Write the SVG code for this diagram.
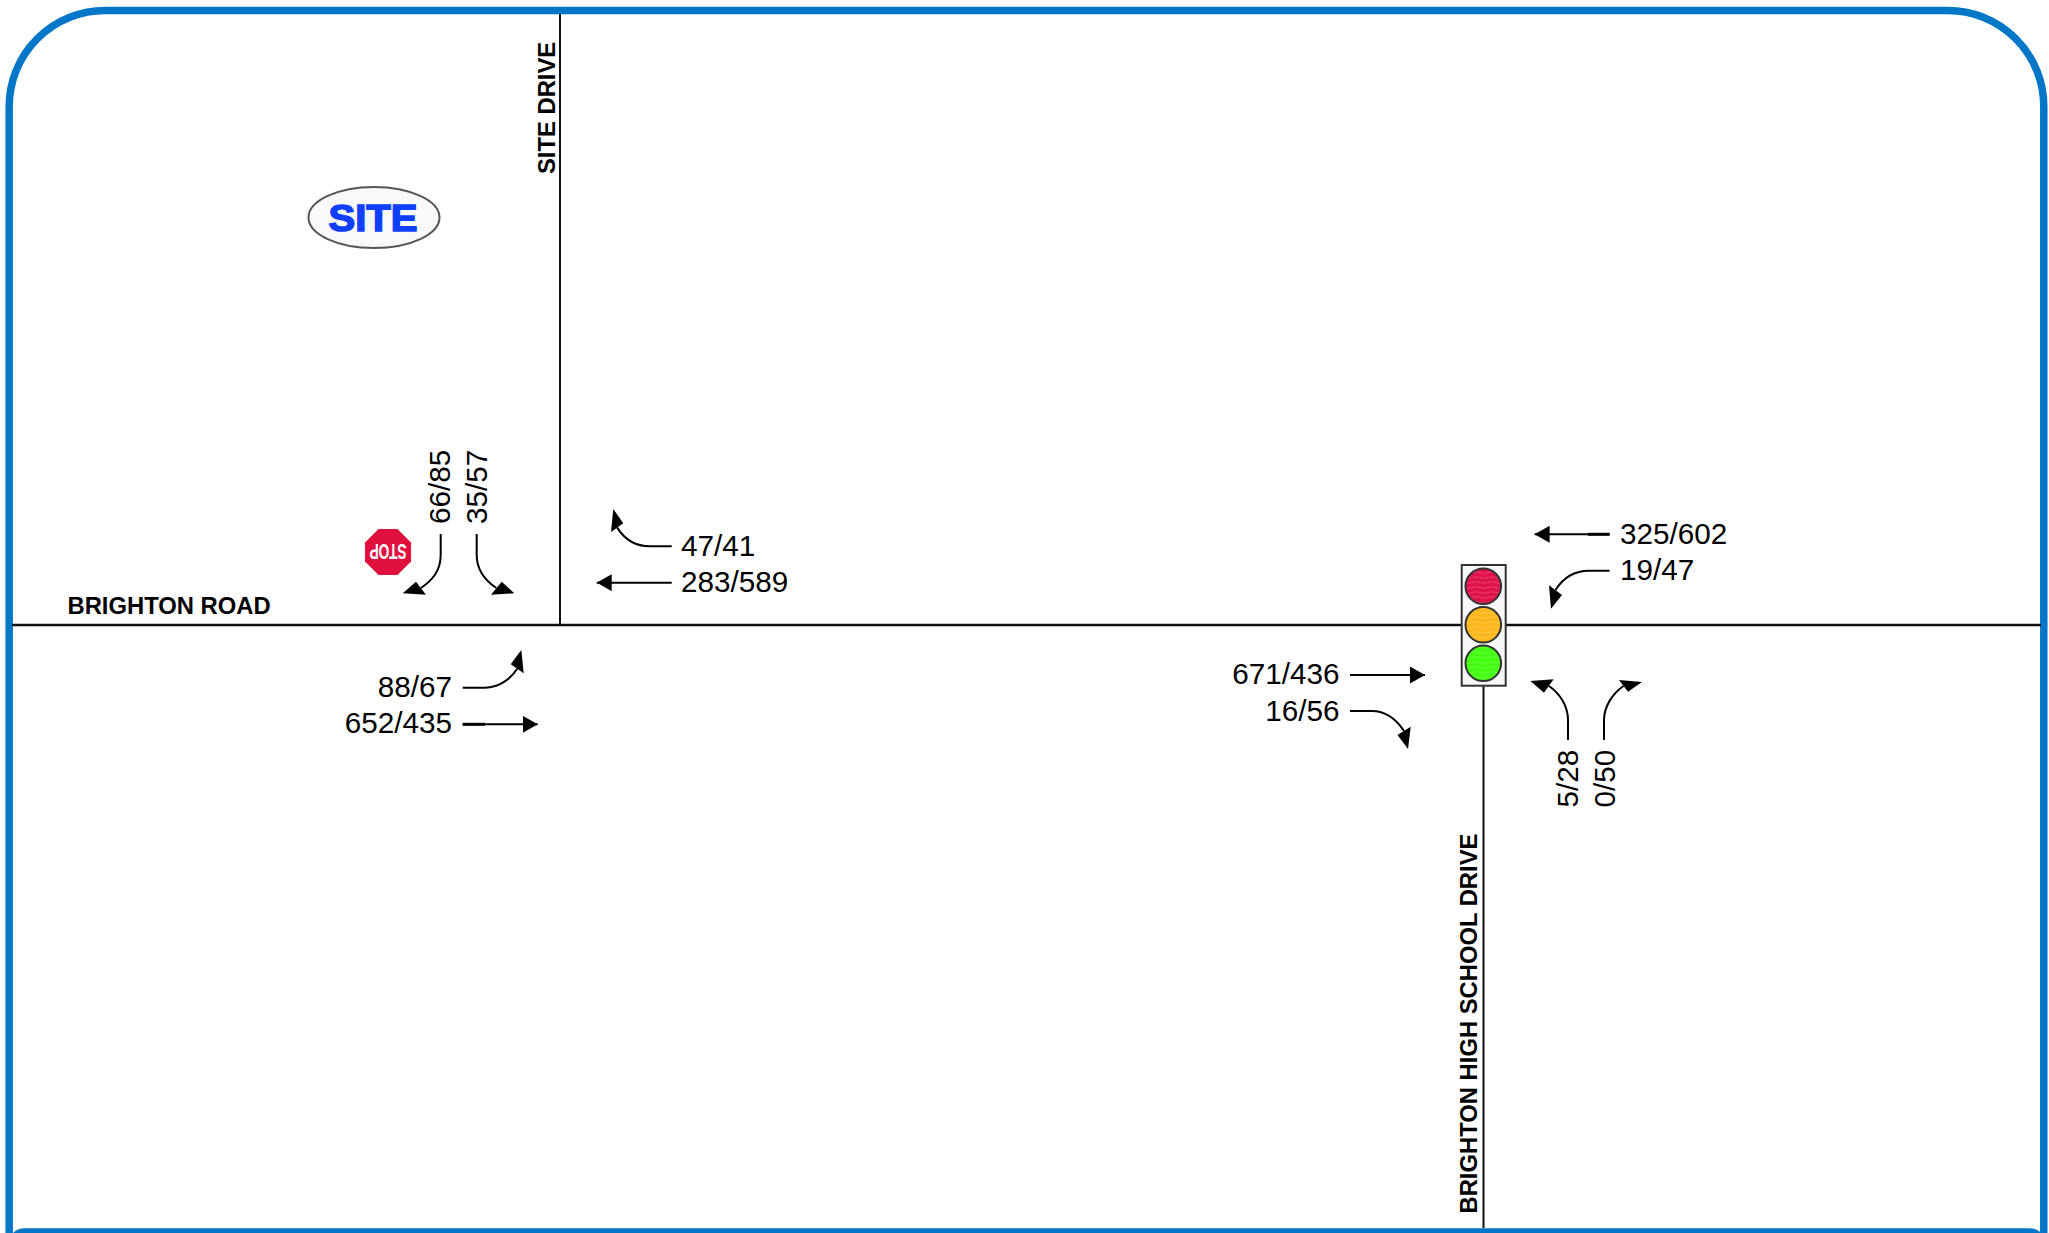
<svg xmlns="http://www.w3.org/2000/svg" width="2049" height="1233" viewBox="0 0 2049 1233">
<style>
.road{stroke:#111;fill:none}
.arr{stroke:#000;stroke-width:2;fill:none}
.straight{marker-end:url(#headS)}
.head{fill:#000}
.thick{stroke:#000;stroke-width:3;fill:none}
.vol{font-family:"Liberation Sans",Arial,sans-serif;font-size:29.7px;fill:#000}
.name{font-family:"Liberation Sans",Arial,sans-serif;font-size:23.8px;font-weight:bold;fill:#000}
.light{stroke:#333;stroke-width:2}
</style>
<defs>
<marker id="headS" markerUnits="userSpaceOnUse" viewBox="0 0 15 17" refX="15" refY="8.500" markerWidth="15" markerHeight="17" orient="auto"><path d="M0,0L15,8.500L0,17Z" fill="#000"/></marker>
<pattern id="wave" patternUnits="userSpaceOnUse" width="16" height="5"><path d="M0,2.500Q4,1 8,2.500T16,2.500" fill="none" stroke="#fff" stroke-opacity=".18" stroke-width="1"/></pattern>
</defs>
<rect width="2049" height="1233" fill="#fff"/>
<g id="frame">
<path d="M9.200,1233V106.500A96,96 0 0 1 105.200,10.500H1947.800A96,96 0 0 1 2043.800,106.500V1233" fill="none" stroke="#0277c8" stroke-width="7.500"/>
<path d="M13,1233Q17,1228.300 25,1228.300H2029Q2037,1228.300 2041,1233Z" fill="#0277c8"/>
</g>
<g id="roads">
<path class="road" stroke-width="2.500" d="M12,625H2041"/>
<path class="road" stroke-width="2" d="M560,14V625"/>
<path class="road" stroke-width="2" d="M1483.500,686V1228"/>
</g>
<g id="connectors">
<path class="arr" d="M440.700,534V555C440.700,572 431,581 421,588"/>
<polygon class="head" points="402.700,593.300 426,594.700 416,581.700"/>
<path class="arr" d="M476.700,534V555C476.700,570 486,581 496.300,588"/>
<polygon class="head" points="514.300,593.300 491,594.700 501.700,581.700"/>
<path class="arr" d="M671.700,546.300H650C636,546.300 625,540 617.200,527.600"/>
<polygon class="head" points="613.300,509 611,532 623.300,523.300"/>
<path class="arr straight" d="M671.700,582.700H596.700"/>
<path class="arr" d="M462.700,687.700H485C498,687.700 510,680 517.200,668.800"/>
<polygon class="head" points="521.300,650 523.700,673.300 510.700,664.300"/>
<path class="arr straight" d="M462.700,724.300H537.700"/>
<path class="thick" d="M462.700,724.300H485"/>
<path class="arr straight" d="M1609.600,534.300H1534.600"/>
<path class="thick" d="M1609.600,534.300H1588"/>
<path class="arr" d="M1609.600,570.700H1589C1575,570.700 1563,578 1555.500,590"/>
<polygon class="head" points="1551,608.700 1549,585.300 1562,595"/>
<path class="arr straight" d="M1350,675H1425"/>
<path class="arr" d="M1350,711H1372C1385,711 1396,719 1404,731"/>
<polygon class="head" points="1408,749 1410.700,726.700 1397.500,735"/>
<path class="arr" d="M1568,740V720C1568,705 1559,693 1549,686"/>
<polygon class="head" points="1530.400,681 1553.600,679.300 1544,692.700"/>
<path class="arr" d="M1604,740V720C1604,707 1612,694 1623.500,686"/>
<polygon class="head" points="1642,682 1619,680 1628,691.700"/>
</g>
<g id="site">
<ellipse cx="374" cy="217.500" rx="65.500" ry="30.500" fill="#f9f9f9" stroke="#555" stroke-width="2"/>
<text x="328.500" y="230.700" textLength="89" lengthAdjust="spacingAndGlyphs" font-family="'Liberation Sans',Arial,sans-serif" font-size="36.700" font-weight="bold" fill="#0f40ff" stroke="#0f40ff" stroke-width="1.500">SITE</text>
</g>
<g id="stop-sign">
<path d="M378.500,529H397.500L411,542.500V561.500L397.500,575H378.500L365,561.500V542.500Z" fill="#e0103f"/>
<text transform="rotate(180 388 552)" x="369.500" y="560" textLength="37" lengthAdjust="spacingAndGlyphs" font-family="'Liberation Sans',Arial,sans-serif" font-size="22" font-weight="bold" fill="#fff">STOP</text>
</g>
<g id="traffic-signal">
<rect x="1461.700" y="565" width="44" height="120.700" fill="#f8f8f8" stroke="#333" stroke-width="2"/>
<circle class="light" cx="1483.300" cy="586.300" r="17.800" fill="#e0134c"/>
<circle class="light" cx="1483.300" cy="624.800" r="17.800" fill="#ffb81c"/>
<circle class="light" cx="1483.300" cy="663.300" r="17.800" fill="#44ff11"/>
<circle cx="1483.300" cy="586.300" r="16.800" fill="url(#wave)"/>
<circle cx="1483.300" cy="624.800" r="16.800" fill="url(#wave)"/>
<circle cx="1483.300" cy="663.300" r="16.800" fill="url(#wave)"/>
</g>
<g id="road-names">
<text class="name" x="67.500" y="614">BRIGHTON ROAD</text>
<text class="name" transform="translate(555 174) rotate(-90)">SITE DRIVE</text>
<text class="name" transform="translate(1476.600 1213.500) rotate(-90)">BRIGHTON HIGH SCHOOL DRIVE</text>
</g>
<g id="volumes">
<text class="vol" transform="translate(450 524) rotate(-90)">66/85</text>
<text class="vol" transform="translate(486.700 524) rotate(-90)">35/57</text>
<text class="vol" x="681" y="555.700">47/41</text>
<text class="vol" x="681" y="592">283/589</text>
<text class="vol" x="452" y="696.700" text-anchor="end">88/67</text>
<text class="vol" x="452" y="732.700" text-anchor="end">652/435</text>
<text class="vol" x="1620" y="543.600">325/602</text>
<text class="vol" x="1620" y="580">19/47</text>
<text class="vol" x="1339.500" y="684.300" text-anchor="end">671/436</text>
<text class="vol" x="1339.500" y="720.700" text-anchor="end">16/56</text>
<text class="vol" transform="translate(1578 807.500) rotate(-90)">5/28</text>
<text class="vol" transform="translate(1615 807.500) rotate(-90)">0/50</text>
</g>
</svg>
